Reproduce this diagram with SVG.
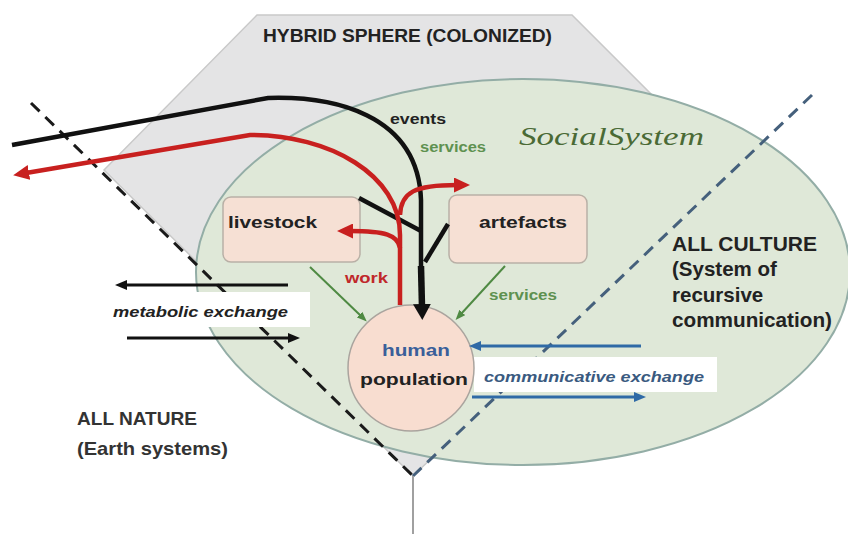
<svg xmlns="http://www.w3.org/2000/svg" width="848" height="534" viewBox="0 0 848 534">
<style>
.t{font-family:"Liberation Sans",Arial,sans-serif;font-weight:bold;fill:#222}
.it{font-style:italic}
.blk{fill:none;stroke:#111;stroke-width:4.5}
.red{fill:none;stroke:#c8201f;stroke-width:4.5}
.grn{fill:none;stroke:#4f8a43;stroke-width:2}
.blu{fill:none;stroke:#2f6aa6;stroke-width:3}
.met{fill:none;stroke:#111;stroke-width:3}
.box{fill:#f6e0d4;stroke:#b9b0a6;stroke-width:1.5}
</style>
<defs>
<marker id="mBig" markerUnits="userSpaceOnUse" viewBox="0 0 16 18" markerWidth="16" markerHeight="18" refX="3" refY="9" orient="auto"><path d="M0,0 L16,9 L0,18 z" fill="#111"/></marker>
<marker id="mRed" markerUnits="userSpaceOnUse" viewBox="0 0 16 15" markerWidth="16" markerHeight="15" refX="3" refY="7.5" orient="auto"><path d="M0,0 L16,7.5 L0,15 z" fill="#c8201f"/></marker>
<marker id="mGrn" markerUnits="userSpaceOnUse" viewBox="0 0 10 8" markerWidth="10" markerHeight="8" refX="2" refY="4" orient="auto"><path d="M0,0 L10,4 L0,8 z" fill="#4f8a43"/></marker>
<marker id="mBlk" markerUnits="userSpaceOnUse" viewBox="0 0 12 10" markerWidth="12" markerHeight="10" refX="2" refY="5" orient="auto"><path d="M0,0 L12,5 L0,10 z" fill="#111"/></marker>
<marker id="mBlu" markerUnits="userSpaceOnUse" viewBox="0 0 12 10" markerWidth="12" markerHeight="10" refX="2" refY="5" orient="auto"><path d="M0,0 L12,5 L0,10 z" fill="#2f6aa6"/></marker>
</defs>
<rect width="848" height="534" fill="#ffffff"/>
<g id="hybrid-sphere">
<polygon points="257,15 572,15 680,123 597,300 413,476 104,170" fill="#e4e4e5" stroke="#c9c9c9" stroke-width="1.5"/>
</g>
<g id="social-system">
<ellipse cx="523" cy="272" rx="327" ry="193" fill="#dfe8d8" stroke="#93ada6" stroke-width="2"/>
</g>
<g id="boundaries">
<line x1="31" y1="103" x2="413" y2="476" stroke="#1a1a1a" stroke-width="3" stroke-dasharray="12 8"/>
<line x1="812" y1="95" x2="413" y2="476" stroke="#45607c" stroke-width="3" stroke-dasharray="12 8"/>
<line x1="413" y1="476" x2="413" y2="534" stroke="#a0a0a0" stroke-width="2"/>
</g>
<g id="metabolic-label">
<rect x="108" y="292" width="202" height="35" fill="#ffffff"/>
<text class="t it" x="113" y="317" font-size="15" textLength="175" lengthAdjust="spacingAndGlyphs">metabolic exchange</text>
</g>
<g id="communicative-label">
<rect x="474" y="357" width="243" height="35" fill="#ffffff"/>
<text class="t it" x="484" y="382" font-size="15" style="fill:#3a5a80" textLength="220" lengthAdjust="spacingAndGlyphs">communicative exchange</text>
</g>
<g id="livestock">
<rect class="box" x="223" y="197" width="137" height="65" rx="8"/>
<text class="t" x="228" y="228" font-size="17" textLength="89" lengthAdjust="spacingAndGlyphs">livestock</text>
</g>
<g id="artefacts">
<rect class="box" x="449" y="195" width="138" height="68" rx="8"/>
<text class="t" x="479" y="228" font-size="17" textLength="88" lengthAdjust="spacingAndGlyphs">artefacts</text>
</g>
<g id="human-population">
<circle cx="411" cy="368" r="63" fill="#f8ddd0" stroke="#aaa49e" stroke-width="1.5"/>
<text class="t" x="382" y="356" font-size="17" style="fill:#3a5f9a" textLength="68" lengthAdjust="spacingAndGlyphs">human</text>
<text class="t" x="360" y="385" font-size="17" textLength="108" lengthAdjust="spacingAndGlyphs">population</text>
</g>
<g id="connectors">
<path class="blk" d="M12,145 L268,98 C330,96 418,112 421,200 L421,270"/>
<path d="M421,266 L422,307" fill="none" stroke="#111" stroke-width="6.5" marker-end="url(#mBig)"/>
<path class="blk" d="M359,198 L421,231"/>
<path class="blk" d="M448,224 L425,262"/>
<path class="red" d="M400,305 L400,235 C400,175 330,135 250,135 L26,173" marker-end="url(#mRed)"/>
<path class="red" d="M400,248 C398,235 385,231 350,231" marker-end="url(#mRed)"/>
<path class="red" d="M400,215 C401,192 415,185 457,185" marker-end="url(#mRed)"/>
<path class="grn" d="M310,267 L361,316" marker-end="url(#mGrn)"/>
<path class="grn" d="M505,266 L461,314" marker-end="url(#mGrn)"/>
<path class="met" d="M288,285 L125,285" marker-end="url(#mBlk)"/>
<path class="met" d="M127,338 L290,338" marker-end="url(#mBlk)"/>
<path class="blu" d="M641,346 L479,346" marker-end="url(#mBlu)"/>
<path class="blu" d="M472,397 L636,397" marker-end="url(#mBlu)"/>
</g>
<g id="labels">
<text class="t" x="263" y="42" font-size="18" textLength="289" lengthAdjust="spacingAndGlyphs">HYBRID SPHERE (COLONIZED)</text>
<text x="519" y="145" font-family="'Liberation Serif','DejaVu Serif',serif" font-style="italic" font-size="26" fill="#4a6a35" textLength="185" lengthAdjust="spacingAndGlyphs">SocialSystem</text>
<text class="t" x="390" y="124" font-size="14" textLength="56" lengthAdjust="spacingAndGlyphs">events</text>
<text class="t" x="420" y="152" font-size="14" style="fill:#5e9150" textLength="66" lengthAdjust="spacingAndGlyphs">services</text>
<text class="t" x="345" y="283" font-size="15" style="fill:#c0282a" textLength="43" lengthAdjust="spacingAndGlyphs">work</text>
<text class="t" x="489" y="300" font-size="14" style="fill:#5e9150" textLength="68" lengthAdjust="spacingAndGlyphs">services</text>
<text class="t" x="672" y="251" font-size="20.5" textLength="145" lengthAdjust="spacingAndGlyphs">ALL CULTURE</text>
<text class="t" x="672" y="276" font-size="20.5">(System of</text>
<text class="t" x="672" y="302" font-size="20.5">recursive</text>
<text class="t" x="672" y="327" font-size="20.5" textLength="160" lengthAdjust="spacingAndGlyphs">communication)</text>
<text class="t" x="77" y="425" font-size="19" style="fill:#333" textLength="120" lengthAdjust="spacingAndGlyphs">ALL NATURE</text>
<text class="t" x="77" y="455" font-size="19" style="fill:#333" textLength="151" lengthAdjust="spacingAndGlyphs">(Earth systems)</text>
</g>
</svg>
